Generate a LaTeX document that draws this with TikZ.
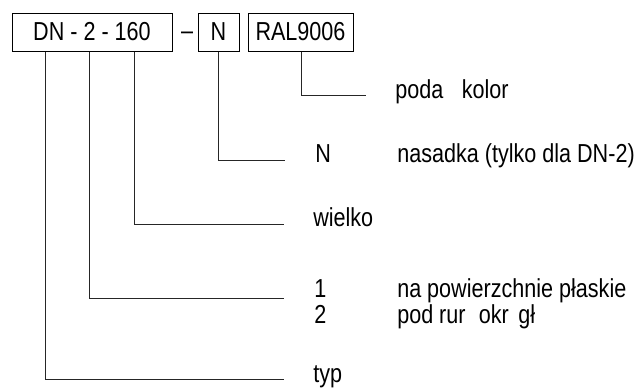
\documentclass[tikz,border=0pt]{standalone}
\usepackage{fontspec}
\setmainfont{Liberation Sans}[FakeStretch=0.83]
\begin{document}
\begin{tikzpicture}[x=0.75pt,y=-0.75pt,
  every node/.style={font=\fontsize{19.5}{23}\selectfont, text=black},
  box/.style={draw=black, line width=0.75pt, inner sep=0pt, minimum height=28.5pt},
  lbl/.style={anchor=base west, inner sep=0pt},
  conn/.style={draw=black!85, line width=0.75pt}]
\useasboundingbox (0,0) rectangle (638,390);
% boxes
\node[box, minimum width=120pt] (dn) at (92,32) {DN - 2 - 160};
\node[inner sep=0pt, anchor=base] (dash) at (187,39) {\textendash};
\node[box, minimum width=30.75pt] (nb) at (218.5,32) {N};
\node[box, minimum width=78.75pt] (ral) at (300.5,32) {RAL9006};
% tick positions
\coordinate (xTyp) at (45,0);
\coordinate (xNr) at (89,0);
\coordinate (xSize) at (134,0);
\coordinate (xN) at (218,0);
\coordinate (xRal) at (301,0);
% connector ends
\coordinate (eRal) at (366,95);
\coordinate (eN) at (285,160);
\coordinate (eSize) at (284,224);
\coordinate (eNr) at (284,298);
\coordinate (eTyp) at (284,379);
% labels
\node[lbl] (tKolor) at (395,98) {poda\hspace{14pt}kolor};
\node[lbl] (tN) at (315,162) {N};
\node[lbl] (tNas) at (397,162) {nasadka (tylko dla DN-2)};
\node[lbl] (tSize) at (313,226) {wielko};
\node[lbl] (t1) at (314,297) {1};
\node[lbl] (t1d) at (397,297) {na powierzchnie płaskie};
\node[lbl] (t2) at (314,323) {2};
\node[lbl] (t2d) at (397,323) {pod rur\hspace{10pt}okr\hspace{7pt}gł};
\node[lbl] (tTyp) at (313,382) {typ};
% connectors
\draw[conn] (ral.south -| xRal) |- (eRal);
\draw[conn] (nb.south -| xN) |- (eN);
\draw[conn] (dn.south -| xSize) |- (eSize);
\draw[conn] (dn.south -| xNr) |- (eNr);
\draw[conn] (dn.south -| xTyp) |- (eTyp);
\end{tikzpicture}
\end{document}
